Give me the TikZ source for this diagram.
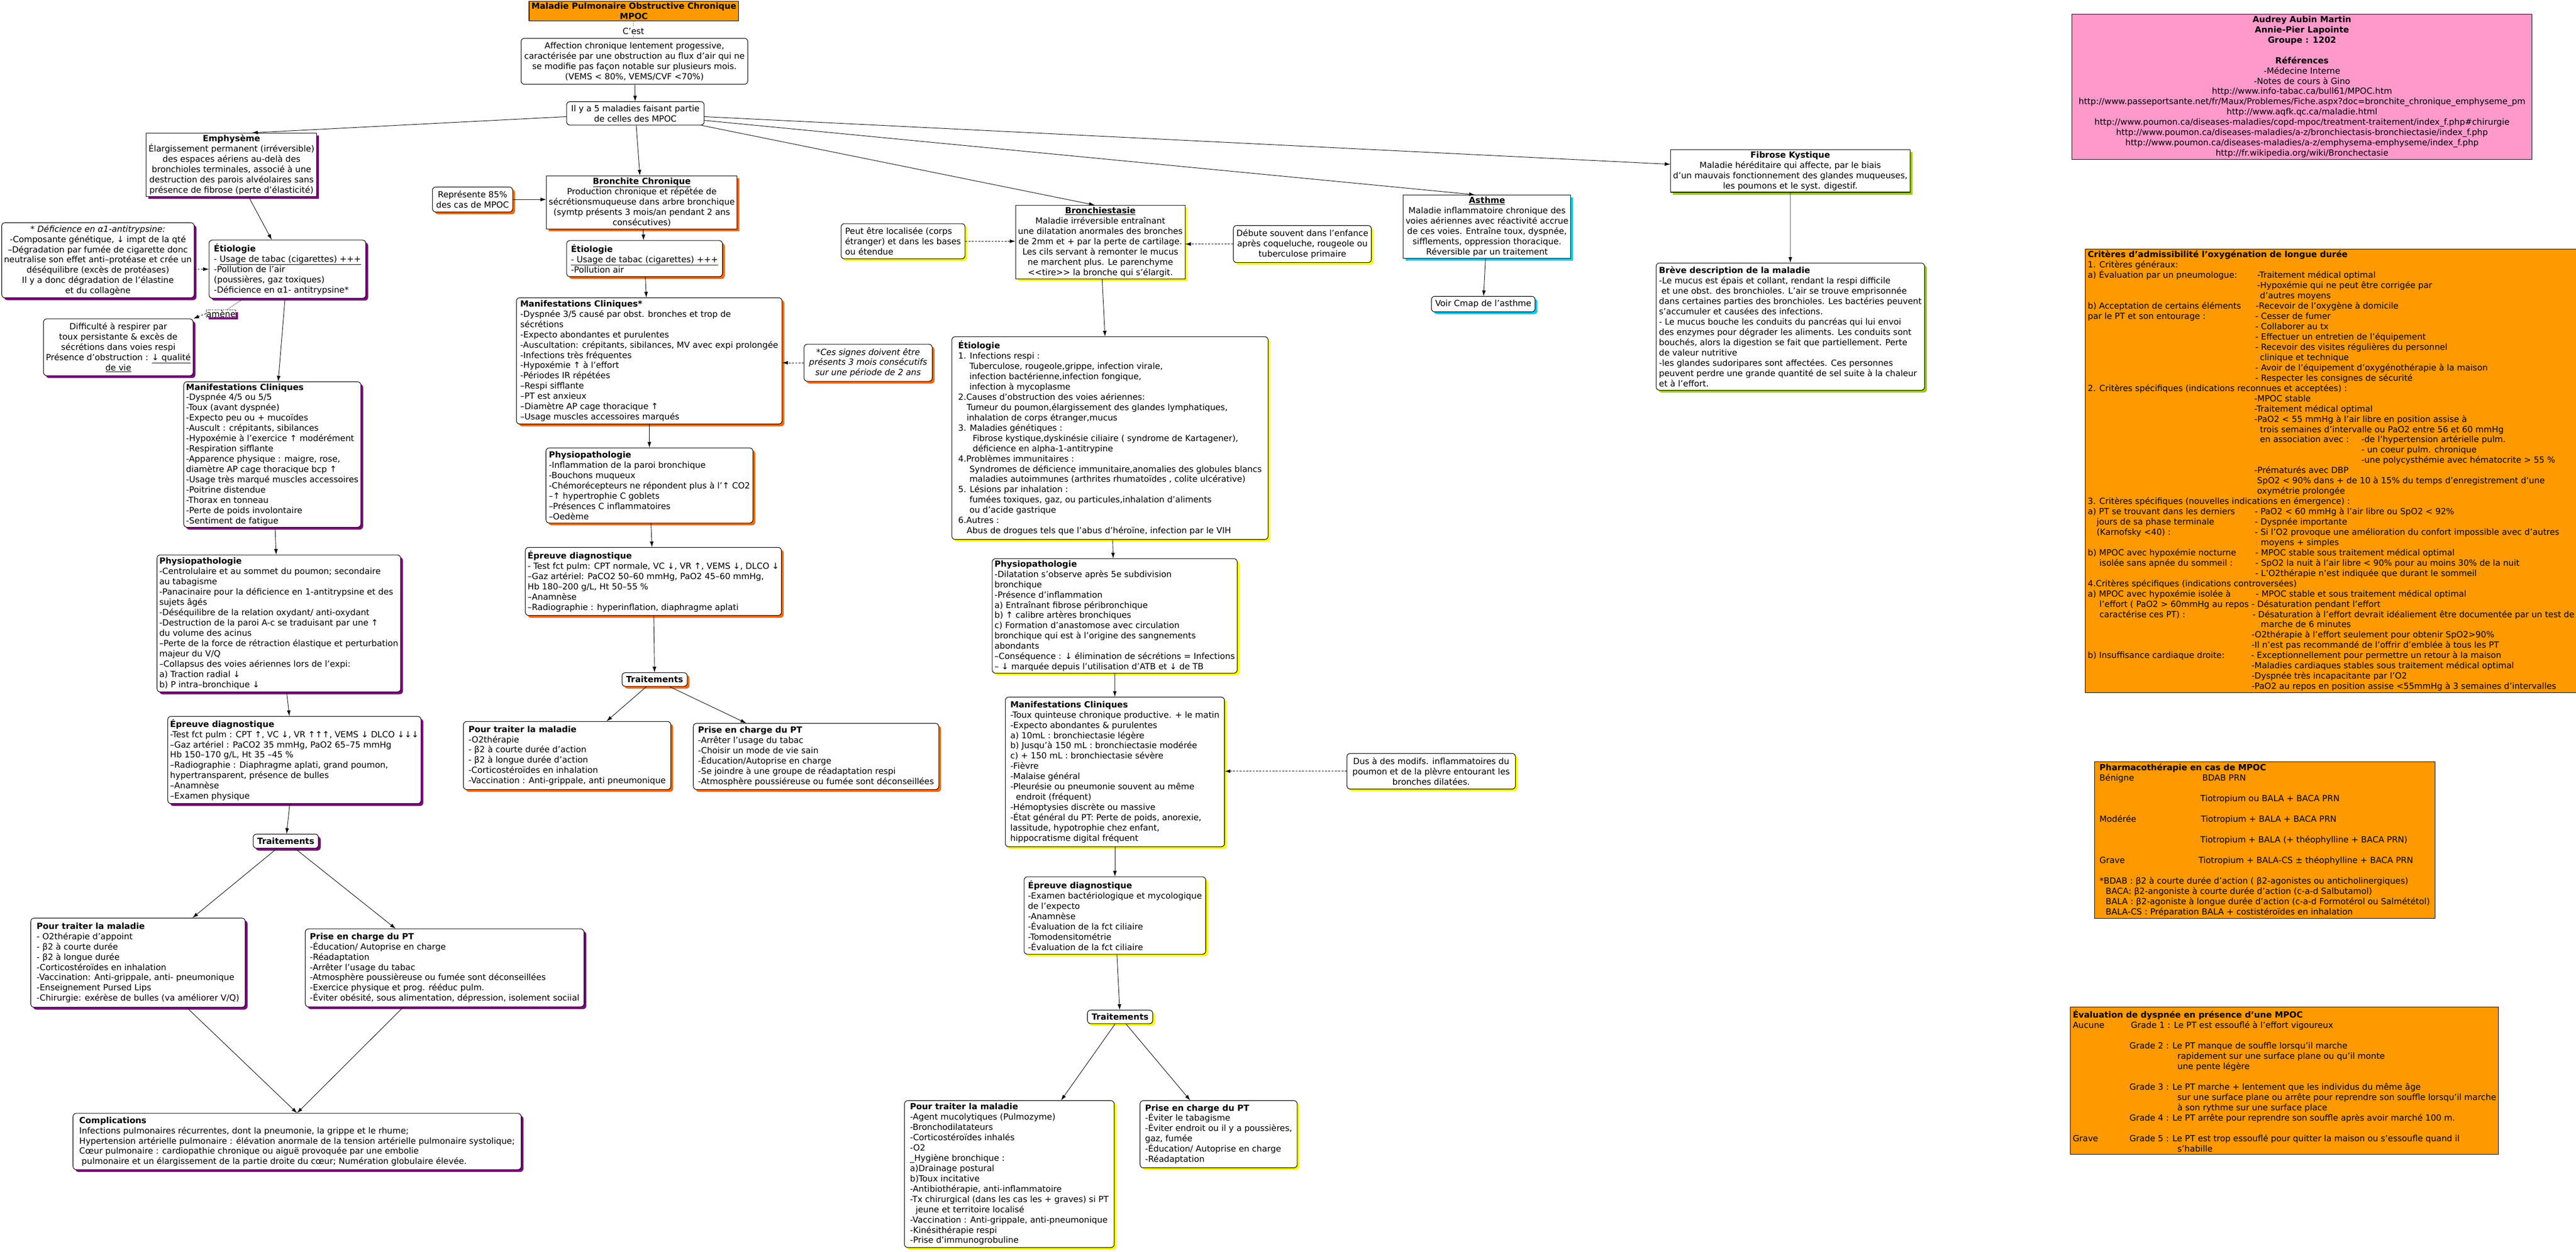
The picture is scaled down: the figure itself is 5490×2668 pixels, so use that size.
\documentclass[tikz,border=0pt]{standalone}
\usepackage{fontspec}
\setmainfont{DejaVu Sans}
\usetikzlibrary{arrows.meta,shadows}
\definecolor{fondorange}{HTML}{FF9900}
\definecolor{fondrose}{HTML}{FF99CC}
\definecolor{ombreviolet}{HTML}{7F007F}
\definecolor{ombreorange}{HTML}{FF6600}
\definecolor{ombrejaune}{HTML}{FFFF00}
\definecolor{ombrebleu}{HTML}{00CCFF}
\definecolor{ombrevert}{HTML}{99CC00}
\newcommand{\ligne}[3]{\makebox[#1pt][l]{#2}#3}

\begin{document}
\begin{tikzpicture}[
		x=1pt, y=-1pt,
		base/.style={font=\fontsize{18}{21.9}\selectfont, inner xsep=5pt, inner ysep=3pt},
		boite/.style={base, draw=black, line width=1.2pt, rounded corners=7pt, fill=white, anchor=north west},
		carre/.style={base, draw=black, line width=1.2pt, fill=white, anchor=north west},
		panneau/.style={base, draw=black, line width=1pt, fill=fondorange, anchor=north west, align=left},
		gauche/.style={align=left},
		centre/.style={align=center},
		taille/.style 2 args={minimum width=#1pt, minimum height=#2pt},
		ombreV/.style={general shadow={fill=ombreviolet, shadow xshift=5pt, shadow yshift=-5pt}},
		ombreO/.style={general shadow={fill=ombreorange, shadow xshift=5pt, shadow yshift=-5pt}},
		ombreJ/.style={general shadow={fill=ombrejaune, shadow xshift=5pt, shadow yshift=-5pt}},
		ombreB/.style={general shadow={fill=ombrebleu, shadow xshift=5pt, shadow yshift=-5pt}},
		ombreG/.style={general shadow={fill=ombrevert, shadow xshift=5pt, shadow yshift=-5pt}},
		fleche/.style={draw=black, line width=1pt, -{Latex[length=12pt,width=8pt]}},
		tirets/.style={fleche, dash pattern=on 4pt off 3pt},
		pointille/.style={draw=black, line width=0.8pt, dash pattern=on 2pt off 2pt}
		]
		\fill[white] (0,0) rectangle (5490,2668);
		\useasboundingbox (0,0) rectangle (5490,2668);

		% haut de la carte
		\node[carre, fill=fondorange, centre, taille={441}{42}, inner ysep=1pt,
			font=\fontsize{18}{21.9}\selectfont\bfseries] (titre) at (1127,2)
			{Maladie Pulmonaire Obstructive Chronique\\MPOC};
		\node[base] (cest) at (1350,67) {C'est};
		\node[boite, centre, taille={483}{98}] (def) at (1110,81)
			{Affection chronique lentement progessive,\\caractérisée par une obstruction au flux d'air qui ne\\se modifie pas façon notable sur plusieurs mois.\\(VEMS < 80\%, VEMS/CVF <70\%)};
		\node[boite, centre, taille={293}{50}] (cinq) at (1207,216)
			{Il y a 5 maladies faisant partie\\de celles des MPOC};

		% emphyseme
		\node[carre, ombreV, centre, taille={362}{135}] (emph) at (311,283)
			{\textbf{Emphysème}\\Élargissement permanent (irréversible)\\des espaces aériens au-delà des\\bronchioles terminales, associé à une\\destruction des parois alvéolaires sans\\présence de fibrose (perte d'élasticité)};
		\node[boite, ombreV, centre, taille={403}{160}] (deficience) at (3,474)
			{\textit{* Déficience en  α1-antitrypsine:}\\-Composante génétique, ↓ impt de la qté\\–Dégradation par fumée de cigarette donc\\neutralise son effet anti–protéase et crée un\\déséquilibre (excès de protéases)\\Il y a donc dégradation de l'élastine\\et du collagène};
		\node[boite, ombreV, gauche, taille={334}{124}] (etioE) at (445,511)
			{\textbf{Étiologie}\\- \underline{Usage de tabac (cigarettes) +++}\\-Pollution de l'air\\(poussières, gaz toxiques)\\-Déficience en α1- antitrypsine*};
		\node[base, draw=black, line width=0.8pt, dash pattern=on 2pt off 2pt, fill=white, ombreV,
			anchor=north west, inner sep=0.5pt] (amene) at (439,660) {amène};
		\node[boite, ombreV, centre, taille={319}{121}] (difficulte) at (92,679)
			{Difficulté à respirer par\\toux persistante \& excès de\\sécrétions dans voies respi\\Présence d'obstruction : \underline{↓ qualité}\\\underline{de vie}};
		\node[boite, ombreV, gauche, taille={374}{310}] (manifE) at (391,813)
			{\textbf{Manifestations Cliniques}\\-Dyspnée 4/5 ou 5/5\\-Toux (avant dyspnée)\\-Expecto peu ou + mucoïdes\\-Auscult : crépitants, sibilances\\-Hypoxémie à l'exercice ↑ modérément\\-Respiration sifflante\\-Apparence physique : maigre, rose,\\diamètre AP cage thoracique bcp ↑\\-Usage très marqué muscles accessoires\\-Poitrine distendue\\-Thorax en tonneau\\-Perte de poids involontaire\\-Sentiment de fatigue};
		\node[boite, ombreV, gauche, taille={518}{292}] (physioE) at (334,1182)
			{\textbf{Physiopathologie}\\-Centrolulaire et au sommet du poumon; secondaire\\au tabagisme\\-Panacinaire pour la déficience en 1-antitrypsine et des\\sujets âgés\\-Déséquilibre de la relation oxydant/ anti-oxydant\\-Destruction de la paroi A-c se traduisant par une ↑\\du volume des acinus\\–Perte de la force de rétraction élastique et perturbation\\majeur du V/Q\\–Collapsus des voies aériennes lors de l'expi:\\a) Traction radial ↓\\b) P intra–bronchique ↓};
		\node[boite, ombreV, gauche, taille={508}{186}] (epreuveE) at (357,1526)
			{\textbf{Épreuve diagnostique}\\-Test fct pulm : CPT ↑, VC ↓, VR ↑↑↑, VEMS ↓ DLCO ↓↓↓\\–Gaz artériel : PaCO2 35 mmHg, PaO2 65–75 mmHg\\Hb 150–170 g/L, Ht 35 –45 \%\\–Radiographie : Diaphragme aplati, grand poumon,\\hypertransparent, présence de bulles\\–Anamnèse\\–Examen physique};
		\node[boite, ombreV, centre, taille={139}{30}] (traitE) at (539,1777) {\textbf{Traitements}};
		\node[boite, ombreV, gauche, taille={457}{190}] (pourE) at (65,1956)
			{\textbf{Pour traiter la maladie}\\- O2thérapie d'appoint\\- β2 à courte durée\\- β2 à longue durée\\-Corticostéroïdes en inhalation\\-Vaccination: Anti-grippale, anti- pneumonique\\-Enseignement Pursed Lips\\-Chirurgie: exérèse de bulles (va améliorer V/Q)};
		\node[boite, ombreV, gauche, taille={594}{166}] (priseE) at (650,1979)
			{\textbf{Prise en charge du PT}\\-Éducation/ Autoprise en charge\\-Réadaptation\\-Arrêter l'usage du tabac\\-Atmosphère poussièreuse ou fumée sont déconseillées\\-Exercice physique et prog. rééduc pulm.\\-Éviter obésité, sous alimentation, dépression, isolement sociial};
		\node[boite, ombreV, gauche, taille={955}{120}] (complic) at (155,2372)
			{\textbf{Complications}\\Infections pulmonaires récurrentes, dont la pneumonie, la grippe et le rhume;\\Hypertension artérielle pulmonaire : élévation anormale de la tension artérielle pulmonaire systolique;\\Cœur pulmonaire : cardiopathie chronique ou aiguë provoquée par une embolie\\\hspace*{5pt}pulmonaire et un élargissement de la partie droite du cœur; Numération globulaire élevée.};

		% bronchite chronique
		\node[boite, ombreO, centre, taille={171}{53}] (represente) at (921,398)
			{Représente 85\%\\des cas de MPOC};
		\node[carre, ombreO, centre, taille={403}{113}] (bronch) at (1164,374)
			{\textbf{\underline{Bronchite Chronique}}\\Production chronique et répétée de\\sécrétionsmuqueuse dans arbre bronchique\\(symtp présents 3 mois/an pendant 2 ans\\consécutives)};
		\node[boite, ombreO, gauche, taille={332}{77}] (etioB) at (1207,512)
			{\textbf{Étiologie}\\\underline{- Usage de tabac (cigarettes) +++}\\-Pollution air};
		\node[boite, ombreO, gauche, taille={566}{269}] (manifB) at (1100,634)
			{\textbf{Manifestations Cliniques*}\\-Dyspnée 3/5 causé par obst. bronches et trop de\\sécrétions\\-Expecto abondantes et purulentes\\-Auscultation: crépitants, sibilances, MV avec expi prolongée\\-Infections très fréquentes\\-Hypoxémie ↑ à l'effort\\-Périodes IR répétées\\–Respi sifflante\\–PT est anxieux\\–Diamètre AP cage thoracique ↑\\–Usage muscles accessoires marqués};
		\node[boite, ombreO, centre, taille={273}{79}] (signes) at (1713,733)
			{\textit{*Ces signes doivent être}\\\textit{présents 3 mois consécutifs}\\\textit{sur une période de 2 ans}};
		\node[boite, ombreO, gauche, taille={441}{160}] (physioB) at (1163,954)
			{\textbf{Physiopathologie}\\-Inflammation de la paroi bronchique\\-Bouchons muqueux\\-Chémorécepteurs ne répondent plus à l'↑ CO2\\–↑ hypertrophie C goblets\\–Présences C inflammatoires\\–Oedème};
		\node[boite, ombreO, gauche, taille={536}{145}] (epreuveB) at (1119,1166)
			{\textbf{Épreuve diagnostique}\\- Test fct pulm: CPT normale, VC ↓, VR ↑, VEMS ↓, DLCO ↓\\–Gaz artériel: PaCO2 50–60 mmHg, PaO2 45–60 mmHg,\\Hb 180–200 g/L, Ht 50–55 \%\\–Anamnèse\\–Radiographie : hyperinflation, diaphragme aplati};
		\node[boite, ombreO, centre, taille={139}{29}] (traitB) at (1325,1433) {\textbf{Traitements}};
		\node[boite, ombreO, gauche, taille={442}{145}] (pourB) at (987,1537)
			{\textbf{Pour traiter la maladie}\\-O2thérapie\\- β2 à courte durée d'action\\- β2 à longue durée d'action\\-Corticostéroïdes en inhalation\\-Vaccination : Anti-grippale, anti pneumonique};
		\node[boite, ombreO, gauche, taille={523}{141}] (priseB) at (1477,1541)
			{\textbf{Prise en charge du PT}\\-Arrêter l'usage du tabac\\-Choisir un mode de vie sain\\-Éducation/Autoprise en charge\\-Se joindre à une groupe de réadaptation respi\\-Atmosphère poussiéreuse ou fumée sont déconseillées};

		% bronchiestasie
		\node[boite, ombreJ, gauche, taille={264}{75}] (localisee) at (1792,476)
			{Peut être localisée (corps\\étranger) et dans les bases\\ou étendue};
		\node[carre, ombreJ, centre, taille={359}{157}] (bronchie) at (2164,437)
			{\textbf{\underline{Bronchiestasie}}\\Maladie irréversible entraînant\\une dilatation anormales des bronches\\de 2mm et + par la perte de cartilage.\\Les cils servant à remonter le mucus\\ne marchent plus. Le parenchyme\\<{}<tire>{}> la bronche qui s'élargit.};
		\node[boite, ombreJ, centre, taille={294}{79}] (debute) at (2628,480)
			{Débute souvent dans l'enfance\\après coqueluche, rougeole ou\\tuberculose primaire};
		\node[boite, ombreJ, gauche, taille={674}{432}] (etioBE) at (2028,717)
			{\textbf{Étiologie}\\1. Infections respi :\\\hspace*{24pt}Tuberculose, rougeole,grippe, infection virale,\\\hspace*{24pt}infection bactérienne,infection fongique,\\\hspace*{24pt}infection à mycoplasme\\2.Causes d'obstruction des voies aériennes:\\\hspace*{18pt}Tumeur du poumon,élargissement des glandes lymphatiques,\\\hspace*{18pt}inhalation de corps étranger,mucus\\3. Maladies génétiques :\\\hspace*{31pt}Fibrose kystique,dyskinésie ciliaire ( syndrome de Kartagener),\\\hspace*{31pt}déficience en alpha-1-antitrypine\\4.Problèmes immunitaires :\\\hspace*{24pt}Syndromes de déficience immunitaire,anomalies des globules blancs\\\hspace*{24pt}maladies autoimmunes (arthrites rhumatoïdes , colite ulcérative)\\5. Lésions par inhalation :\\\hspace*{24pt}fumées toxiques, gaz, ou particules,inhalation d'aliments\\\hspace*{24pt}ou d'acide gastrique\\6.Autres :\\\hspace*{18pt}Abus de drogues tels que l'abus d'héroïne, infection par le VIH};
		\node[boite, ombreJ, gauche, taille={506}{244}] (physioBE) at (2114,1190)
			{\textbf{Physiopathologie}\\-Dilatation s'observe après 5e subdivision\\bronchique\\-Présence d'inflammation\\a) Entraînant fibrose péribronchique\\b) ↑ calibre artères bronchiques\\c) Formation d'anastomose avec circulation\\bronchique qui est à l'origine des sangnements\\abondants\\–Conséquence : ↓ élimination de sécrétions = Infections\\– ↓ marquée depuis l'utilisation d'ATB et ↓ de TB};
		\node[boite, ombreJ, gauche, taille={467}{319}] (manifBE) at (2142,1485)
			{\textbf{Manifestations Cliniques}\\-Toux quinteuse chronique productive. + le matin\\-Expecto abondantes \& purulentes\\a) 10mL : bronchiectasie légère\\b) Jusqu'à 150 mL : bronchiectasie modérée\\c) + 150 mL : bronchiectasie sévère\\-Fièvre\\-Malaise général\\-Pleurésie ou pneumonie souvent au même\\\hspace*{12pt}endroit (fréquent)\\-Hémoptysies discrète ou massive\\-État général du PT: Perte de poids, anorexie,\\lassitude, hypotrophie chez enfant,\\hippocratisme digital fréquent};
		\node[boite, ombreJ, centre, taille={359}{76}] (dus) at (2870,1605)
			{Dus à des modifs. inflammatoires du\\poumon et de la plèvre entourant les\\bronches dilatées.};
		\node[boite, ombreJ, gauche, taille={387}{165}] (epreuveBE) at (2182,1868)
			{\textbf{Épreuve diagnostique}\\-Examen bactériologique et mycologique\\de l'expecto\\-Anamnèse\\-Évaluation de la fct ciliaire\\-Tomodensitométrie\\-Évaluation de la fct ciliaire};
		\node[boite, ombreJ, centre, taille={139}{29}] (traitBE) at (2317,2152) {\textbf{Traitements}};
		\node[boite, ombreJ, gauche, taille={447}{313}] (pourBE) at (1927,2345)
			{\textbf{Pour traiter la maladie}\\-Agent mucolytiques (Pulmozyme)\\-Bronchodilatateurs\\-Corticostéroïdes inhalés\\-O2\\\_Hygiène bronchique :\\a)Drainage postural\\b)Toux incitative\\-Antibiothérapie, anti-inflammatoire\\-Tx chirurgical (dans les cas les + graves) si PT\\\hspace*{12pt}jeune et territoire localisé\\-Vaccination : Anti-grippale, anti-pneumonique\\-Kinésithérapie respi\\-Prise d'immunogrobuline};
		\node[boite, ombreJ, gauche, taille={335}{143}] (priseBE) at (2429,2345)
			{\textbf{Prise en charge du PT}\\-Éviter le tabagisme\\-Éviter endroit ou il y a poussières,\\gaz, fumée\\-Éducation/ Autoprise en charge\\-Réadaptation};

		% asthme et fibrose kystique
		\node[carre, ombreB, centre, taille={354}{135}] (asthme) at (2990,415)
			{\textbf{\underline{Asthme}}\\Maladie inflammatoire chronique des\\voies aériennes avec réactivité accrue\\de ces voies. Entraîne toux, dyspnée,\\sifflements, oppression thoracique.\\Réversible par un traitement};
		\node[boite, ombreB, centre, taille={221}{33}] (voir) at (3050,631) {Voir Cmap de l'asthme};
		\node[carre, ombreG, centre, taille={503}{91}] (fibrose) at (3560,318)
			{\textbf{Fibrose Kystique}\\Maladie héréditaire qui affecte, par le biais\\d'un mauvais fonctionnement des glandes muqueuses,\\les poumons et le syst. digestif.};
		\node[boite, ombreG, gauche, taille={572}{271}] (breve) at (3529,560)
			{\textbf{Brève description de la maladie}\\-Le mucus est épais et collant, rendant la respi difficile\\\hspace*{5pt}et une obst. des bronchioles. L'air se trouve emprisonnée\\dans certaines parties des bronchioles. Les bactéries peuvent\\s'accumuler et causées des infections.\\- Le mucus bouche les conduits du pancréas qui lui envoi\\des enzymes pour dégrader les aliments. Les conduits sont\\bouchés, alors la digestion se fait que partiellement. Perte\\de valeur nutritive\\-les glandes sudoripares sont affectées. Ces personnes\\peuvent perdre une grande quantité de sel suite à la chaleur\\et à l'effort.};

		% panneaux de droite
		\node[panneau, fill=fondrose, align=center, taille={981}{309}] (auteurs) at (4415,30)
			{\textbf{Audrey Aubin Martin}\\\textbf{Annie-Pier Lapointe}\\\textbf{Groupe : 1202}\\\mbox{}\\\textbf{Références}\\-Médecine Interne\\-Notes de cours à Gino\\http://www.info-tabac.ca/bull61/MPOC.htm\\http://www.passeportsante.net/fr/Maux/Problemes/Fiche.aspx?doc=bronchite\_chronique\_emphyseme\_pm\\http://www.aqfk.qc.ca/maladie.html\\http://www.poumon.ca/diseases-maladies/copd-mpoc/treatment-traitement/index\_f.php\#chirurgie\\http://www.poumon.ca/diseases-maladies/a-z/bronchiectasis-bronchiectasie/index\_f.php\\http://www.poumon.ca/diseases-maladies/a-z/emphysema-emphyseme/index\_f.php\\http://fr.wikipedia.org/wiki/Bronchectasie};
		\node[panneau, taille={1044}{946}] (criteres) at (4444,530)
			{\textbf{Critères d'admissibilité l'oxygénation de longue durée}\\
			1. Critères généraux:\\
			\ligne{361}{a) Évaluation par un pneumologue:}{-Traitement médical optimal}\\
			\ligne{361}{}{-Hypoxémie qui ne peut être corrigée par}\\
			\ligne{367}{}{d'autres moyens}\\
			\ligne{358}{b) Acceptation de certains éléments}{-Recevoir de l'oxygène à domicile}\\
			\ligne{357}{par le PT et son entourage :}{- Cesser de fumer}\\
			\ligne{357}{}{- Collaborer au tx}\\
			\ligne{357}{}{- Effectuer un entretien de l'équipement}\\
			\ligne{357}{}{- Recevoir des visites régulières du personnel}\\
			\ligne{367}{}{clinique et technique}\\
			\ligne{357}{}{- Avoir de l'équipement d'oxygénothérapie à la maison}\\
			\ligne{357}{}{- Respecter les consignes de sécurité}\\
			2. Critères spécifiques (indications reconnues et acceptées) :\\
			\ligne{355}{}{-MPOC stable}\\
			\ligne{355}{}{-Traitement médical optimal}\\
			\ligne{355}{}{-PaO2 < 55 mmHg à l'air libre en position assise à}\\
			\ligne{367}{}{trois semaines d'intervalle ou PaO2 entre 56 et 60 mmHg}\\
			\ligne{367}{}{\makebox[216pt][l]{en association avec :}-de l'hypertension artérielle pulm.}\\
			\ligne{583}{}{- un coeur pulm. chronique}\\
			\ligne{583}{}{-une polycysthémie avec hématocrite > 55 \%}\\
			\ligne{355}{}{-Prématurés avec DBP}\\
			\ligne{361}{}{SpO2 < 90\% dans + de 10 à 15\% du temps d'enregistrement d'une}\\
			\ligne{361}{}{oxymétrie prolongée}\\
			3. Critères spécifiques (nouvelles indications en émergence) :\\
			\ligne{356}{a) PT se trouvant dans les derniers}{- PaO2 < 60 mmHg à l'air libre ou SpO2 < 92\%}\\
			\ligne{356}{\hspace*{19pt}jours de sa phase terminale}{- Dyspnée importante}\\
			\ligne{356}{\hspace*{19pt}(Karnofsky <40) :}{- Si l'O2 provoque une amélioration du confort impossible avec d'autres}\\
			\ligne{369}{}{moyens + simples}\\
			\ligne{357}{b) MPOC avec hypoxémie nocturne}{- MPOC stable sous traitement médical optimal}\\
			\ligne{357}{\hspace*{25pt}isolée sans apnée du sommeil :}{- SpO2 la nuit à l'air libre < 90\% pour au moins 30\% de la nuit}\\
			\ligne{357}{}{- L'O2thérapie n'est indiquée que durant le sommeil}\\
			4.Critères spécifiques (indications controversées)\\
			\ligne{358}{a) MPOC avec hypoxémie isolée à}{- MPOC stable et sous traitement médical optimal}\\
			\ligne{349}{\hspace*{25pt}l'effort ( PaO2 > 60mmHg au repos}{- Désaturation pendant l'effort}\\
			\ligne{351}{\hspace*{25pt}caractérise ces PT) :}{- Désaturation à l'effort devrait idéaliement être documentée par un test de}\\
			\ligne{369}{}{marche de 6 minutes}\\
			\ligne{349}{}{-O2thérapie à l'effort seulement pour obtenir SpO2>90\%}\\
			\ligne{349}{}{-Il n'est pas recommandé de l'offrir d'emblée à tous les PT}\\
			\ligne{348}{b) Insuffisance cardiaque droite:}{- Exceptionnellement pour permettre un retour à la maison}\\
			\ligne{349}{}{-Maladies cardiaques stables sous traitement médical optimal}\\
			\ligne{349}{}{-Dyspnée très incapacitante par l'O2}\\
			\ligne{349}{}{-PaO2 au repos en position assise <55mmHg à 3 semaines d'intervalles}};
		\node[panneau, taille={726}{334}] (pharma) at (4463,1623)
			{\textbf{Pharmacothérapie en cas de MPOC}\\
			\ligne{219}{Bénigne}{BDAB PRN}\\ \mbox{}\\
			\ligne{215}{}{Tiotropium ou BALA + BACA PRN}\\ \mbox{}\\
			\ligne{216}{Modérée}{Tiotropium + BALA + BACA PRN}\\ \mbox{}\\
			\ligne{215}{}{Tiotropium + BALA (+ théophylline + BACA PRN)}\\ \mbox{}\\
			\ligne{211}{Grave}{Tiotropium + BALA-CS ± théophylline + BACA PRN}\\ \mbox{}\\
			*BDAB : β2 à courte durée d'action ( β2-agonistes ou anticholinergiques)\\
			\hspace*{13pt}BACA: β2-angoniste à courte durée d'action (c-a-d Salbutamol)\\
			\hspace*{13pt}BALA : β2-agoniste à longue durée d'action (c-a-d Formotérol ou Salmététol)\\
			\hspace*{13pt}BALA-CS : Préparation BALA + costistéroïdes en inhalation};
		\node[panneau, taille={908}{314}] (dyspnee) at (4412,2146)
			{\textbf{Évaluation de dyspnée en présence d'une MPOC}\\
			\ligne{124}{Aucune}{Grade 1 : Le PT est essouflé à l'effort vigoureux}\\ \mbox{}\\
			\ligne{121}{}{Grade 2 : Le PT manque de souffle lorsqu'il marche}\\
			\ligne{223}{}{rapidement sur une surface plane ou qu'il monte}\\
			\ligne{223}{}{une pente légère}\\ \mbox{}\\
			\ligne{121}{}{Grade 3 : Le PT marche + lentement que les individus du même âge}\\
			\ligne{223}{}{sur une surface plane ou arrête pour reprendre son souffle lorsqu'il marche}\\
			\ligne{223}{}{à son rythme sur une surface place}\\
			\ligne{121}{}{Grade 4 : Le PT arrête pour reprendre son souffle après avoir marché 100 m.}\\ \mbox{}\\
			\ligne{121}{Grave}{Grade 5 : Le PT est trop essouflé pour quitter la maison ou s'essoufle quand il}\\
			\ligne{223}{}{s'habille}};

		% liens
		\draw[pointille] (titre) -- (cest);
		\draw[pointille] (cest) -- (def);
		\draw[fleche] (def) -- (cinq);
		\draw[fleche] ([yshift=-7pt]cinq.west) -- ([xshift=44pt]emph.north);
		\draw[fleche] (cinq) -- (bronch);
		\draw[fleche] ([xshift=-6pt]cinq.south east) -- ([xshift=-12pt]bronchie.north);
		\draw[fleche] ([yshift=-15pt]cinq.east) -- ([xshift=-26pt]asthme.north);
		\draw[fleche] ([yshift=-7pt]cinq.east) -- ([yshift=14pt]fibrose.west);

		\draw[fleche] (emph) -- (etioE);
		\draw[tirets] (etioE.west -| deficience.east) -- (etioE.west);
		\draw[pointille] (etioE) -- (amene);
		\draw[tirets] (amene.west) -- (difficulte.north east);
		\draw[fleche] (etioE) -- (manifE);
		\draw[fleche] (manifE) -- (physioE);
		\draw[fleche] (physioE) -- (epreuveE);
		\draw[fleche] (epreuveE) -- (traitE);
		\draw[fleche] (traitE) -- (pourE);
		\draw[fleche] (traitE) -- (priseE);
		\draw[fleche] ([xshift=104pt]pourE.south) -- (complic.north);
		\draw[fleche] ([xshift=-88pt]priseE.south) -- (complic.north);

		\draw[fleche] (represente.east) -- (represente.east -| bronch.west);
		\draw[fleche] (bronch) -- (etioB);
		\draw[fleche] (etioB) -- (manifB);
		\draw[tirets] (signes.west) -- (signes.west -| manifB.east);
		\draw[fleche] (manifB) -- (physioB);
		\draw[fleche] (physioB) -- (epreuveB);
		\draw[fleche] (epreuveB) -- (traitB);
		\draw[fleche] (traitB) -- (pourB);
		\draw[fleche] (traitB) -- (priseB);

		\draw[tirets] (localisee.east) -- (localisee.east -| bronchie.west);
		\draw[tirets] (debute.west) -- (debute.west -| bronchie.east);
		\draw[fleche] (bronchie) -- (etioBE);
		\draw[fleche] (etioBE) -- (physioBE);
		\draw[fleche] (physioBE) -- (manifBE);
		\draw[tirets] (dus.west) -- (dus.west -| manifBE.east);
		\draw[fleche] (manifBE) -- (epreuveBE);
		\draw[fleche] (epreuveBE) -- (traitBE);
		\draw[fleche] (traitBE) -- (pourBE);
		\draw[fleche] (traitBE) -- (priseBE);

		\draw[fleche] (asthme) -- (voir);
		\draw[fleche] (fibrose) -- (breve);
	\end{tikzpicture}
\end{document}
